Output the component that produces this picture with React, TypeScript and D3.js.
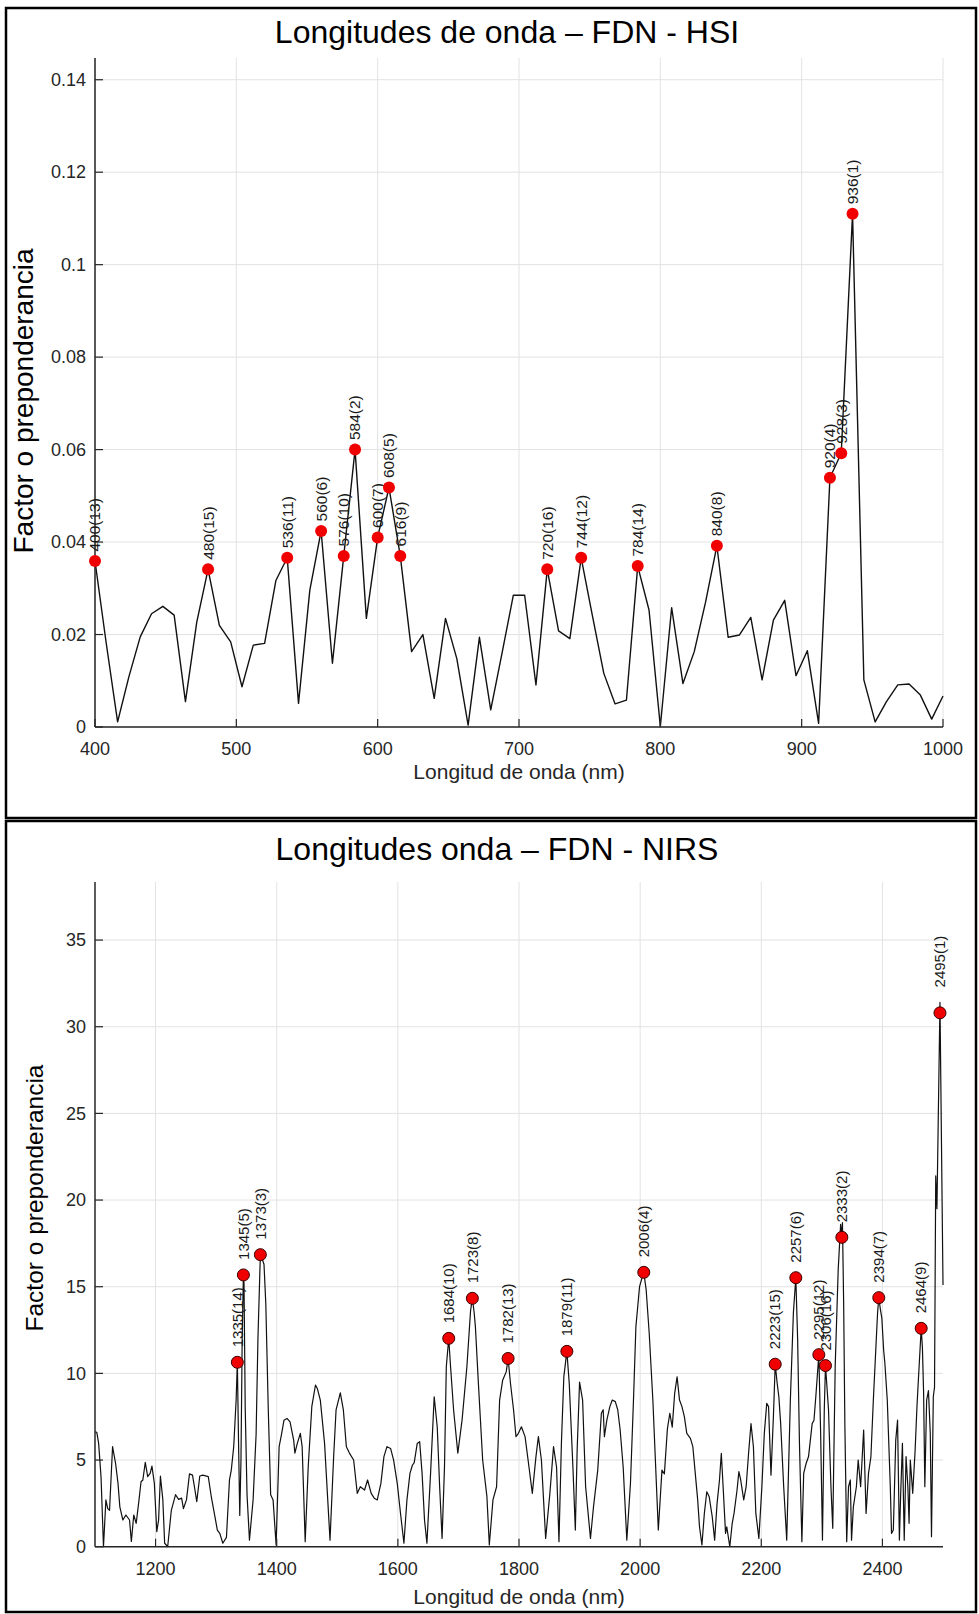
import React from 'react';
import * as d3 from 'd3';

// ---------- HSI (top) ----------
const hsiWavelengths = [
  400, 408, 416, 424, 432, 440, 448, 456, 464, 472, 480, 488, 496, 504, 512, 520, 528, 536, 544, 552,
  560, 568, 576, 584, 592, 600, 608, 616, 624, 632, 640, 648, 656, 664, 672, 680, 688, 696, 704, 712,
  720, 728, 736, 744, 752, 760, 768, 776, 784, 792, 800, 808, 816, 824, 832, 840, 848, 856, 864, 872,
  880, 888, 896, 904, 912, 920, 928, 936, 944, 952, 960, 968, 976, 984, 992, 1000,
];
const hsiValues = [
  0.0359, 0.018, 0.0011, 0.0109, 0.0195, 0.0245, 0.0261, 0.0242, 0.0055, 0.0227, 0.0341, 0.022, 0.0184, 0.0087, 0.0177, 0.0181, 0.0317, 0.0366, 0.0051, 0.0296,
  0.0424, 0.0138, 0.037, 0.06, 0.0235, 0.041, 0.0518, 0.037, 0.0163, 0.02, 0.0062, 0.0235, 0.0148, 0.0004, 0.0194, 0.0037, 0.016, 0.0285, 0.0285, 0.0091,
  0.0341, 0.0208, 0.0191, 0.0366, 0.024, 0.0116, 0.005, 0.0058, 0.0348, 0.0253, 0.0001, 0.0258, 0.0094, 0.0163, 0.027, 0.0392, 0.0194, 0.0199, 0.0237, 0.0102,
  0.0231, 0.0274, 0.0111, 0.0165, 0.0008, 0.0539, 0.0592, 0.111, 0.0102, 0.0011, 0.0055, 0.0091, 0.0093, 0.0069, 0.0017, 0.0067,
];
const hsiPeakWl = [400, 480, 536, 560, 576, 584, 600, 608, 616, 720, 744, 784, 840, 920, 928, 936];
const hsiPeakRank = [13, 15, 11, 6, 10, 2, 7, 5, 9, 16, 12, 14, 8, 4, 3, 1];
const hsiXTicks = [400, 500, 600, 700, 800, 900, 1000];
const hsiYTicks = [0, 0.02, 0.04, 0.06, 0.08, 0.1, 0.12, 0.14];
const hsiYTickLabels = ['0', '0.02', '0.04', '0.06', '0.08', '0.1', '0.12', '0.14'];

// ---------- NIRS (bottom) ----------
const nirsWavelengths = [
  1100, 1103, 1106, 1110, 1114, 1118, 1121, 1124, 1129, 1134, 1138, 1141, 1146, 1151, 1157, 1160, 1164, 1168, 1172, 1176,
  1179, 1183, 1187, 1191, 1194, 1198, 1202, 1205, 1208, 1212, 1215, 1220, 1226, 1233, 1238, 1243, 1246, 1251, 1256, 1261,
  1265, 1268, 1273, 1278, 1287, 1292, 1298, 1302, 1306, 1311, 1317, 1322, 1325, 1329, 1333, 1335, 1337, 1339, 1341, 1343,
  1345, 1346, 1348, 1351, 1355, 1361, 1366, 1369, 1373, 1376, 1379, 1382, 1386, 1390, 1394, 1399, 1404, 1408, 1412, 1417,
  1422, 1428, 1430, 1434, 1439, 1442, 1447, 1452, 1458, 1464, 1467, 1472, 1479, 1488, 1494, 1498, 1505, 1510, 1515, 1520,
  1527, 1533, 1538, 1545, 1550, 1556, 1561, 1566, 1572, 1577, 1582, 1588, 1593, 1599, 1605, 1610, 1615, 1620, 1624, 1627,
  1632, 1636, 1640, 1644, 1648, 1654, 1660, 1665, 1669, 1673, 1677, 1680, 1684, 1687, 1692, 1699, 1706, 1714, 1720, 1723,
  1726, 1728, 1733, 1740, 1747, 1751, 1757, 1763, 1768, 1773, 1779, 1782, 1786, 1791, 1795, 1799, 1804, 1810, 1815, 1822,
  1828, 1832, 1837, 1844, 1851, 1857, 1862, 1866, 1870, 1874, 1879, 1883, 1889, 1893, 1896, 1900, 1905, 1910, 1918, 1923,
  1930, 1936, 1939, 1941, 1945, 1950, 1954, 1959, 1963, 1967, 1972, 1978, 1984, 1989, 1993, 1999, 2003, 2006, 2010, 2015,
  2021, 2030, 2036, 2040, 2045, 2049, 2053, 2057, 2061, 2065, 2069, 2073, 2077, 2083, 2087, 2091, 2095, 2098, 2102, 2106,
  2110, 2114, 2119, 2123, 2127, 2131, 2134, 2137, 2141, 2143, 2148, 2152, 2155, 2160, 2163, 2166, 2171, 2175, 2179, 2183,
  2187, 2191, 2196, 2201, 2205, 2209, 2212, 2216, 2220, 2223, 2226, 2229, 2232, 2237, 2242, 2248, 2253, 2257, 2260, 2263,
  2267, 2270, 2274, 2278, 2284, 2287, 2290, 2295, 2298, 2301, 2304, 2306, 2311, 2315, 2318, 2322, 2327, 2331, 2333, 2334,
  2336, 2338, 2341, 2344, 2347, 2349, 2352, 2357, 2360, 2364, 2369, 2373, 2377, 2381, 2385, 2389, 2392, 2394, 2397, 2399,
  2402, 2404, 2408, 2413, 2415, 2418, 2422, 2425, 2428, 2430, 2433, 2436, 2439, 2442, 2444, 2446, 2450, 2454, 2457, 2459,
  2464, 2466, 2468, 2470, 2473, 2476, 2479, 2481, 2484, 2486, 2488, 2490, 2495, 2500,
];
const nirsValues = [
  6.63, 6.6, 5.96, 4.0, 0, 2.7, 2.2, 2.1, 5.77, 4.8, 3.65, 2.3, 1.54, 1.83, 1.54, 0.3, 1.83, 1.35, 2.5, 3.75,
  3.85, 4.87, 4.04, 4.23, 4.65, 3.65, 0.87, 1.54, 4.08, 2.7, 0.2, 0, 2.1, 3.0, 2.73, 2.8, 2.2, 2.7, 4.2, 4.13,
  3.27, 2.6, 4.08, 4.13, 4.04, 2.88, 1.73, 0.96, 0.77, 0.2, 0.54, 3.85, 4.42, 5.77, 8.46, 10.64, 6.0, 1.8, 5.0, 12.0,
  15.68, 15.2, 8.0, 3.0, 0.38, 2.7, 6.5, 12.0, 16.85, 16.6, 16.3, 14.0, 8.0, 3.0, 2.7, 0.1, 5.77, 6.5, 7.3, 7.4,
  7.2, 6.15, 5.4, 5.96, 6.54, 5.77, 0.29, 4.6, 8.1, 9.33, 9.13, 8.46, 5.96, 0.38, 5.2, 7.9, 8.88, 7.9, 5.77, 5.4,
  5.0, 3.08, 3.46, 3.27, 3.85, 3.08, 2.8, 2.7, 3.65, 5.2, 5.77, 5.67, 5.0, 3.65, 1.73, 0.2, 2.7, 4.23, 4.7, 4.85,
  5.96, 6.06, 4.23, 1.54, 0.2, 4.23, 8.65, 6.92, 3.46, 0.48, 4.6, 10.4, 12.02, 10.4, 7.9, 5.4, 7.3, 10.4, 13.6, 14.33,
  13.5, 12.7, 9.4, 5.0, 2.9, 0.1, 2.7, 3.46, 8.46, 9.6, 10.1, 10.86, 9.4, 7.9, 6.35, 6.54, 6.92, 6.35, 5.0, 3.08,
  5.2, 6.35, 5.0, 0.48, 3.08, 5.77, 4.6, 0.29, 5.96, 9.8, 11.27, 9.4, 4.6, 0.96, 5.58, 9.5, 8.46, 3.46, 0.48, 2.3,
  4.42, 7.7, 7.9, 6.35, 7.3, 8.08, 8.46, 8.37, 7.9, 6.73, 4.6, 0.38, 3.65, 8.46, 12.7, 15.0, 15.5, 15.83, 14.8, 12.3,
  8.46, 0.96, 4.42, 4.2, 6.8, 7.7, 6.9, 8.85, 9.8, 8.46, 8.08, 7.5, 6.54, 6.25, 5.77, 4.23, 2.7, 1.15, 0.1, 1.92,
  3.17, 2.88, 1.73, 0.38, 2.5, 3.85, 5.38, 3.46, 0.77, 1.15, 0, 1.35, 1.92, 3.27, 4.33, 3.85, 2.7, 3.46, 5.38, 7.1,
  5.77, 1.92, 0.48, 3.46, 6.54, 8.27, 8.08, 4.13, 7.5, 10.53, 9.5, 8.65, 7.1, 3.46, 0.38, 8.46, 13.5, 15.52, 12.0, 6.0,
  0.29, 4.23, 4.8, 5.2, 7.1, 7.3, 8.65, 11.08, 6.54, 0.38, 7.9, 10.45, 7.9, 3.46, 1.06, 10.4, 16.0, 18.6, 17.85, 18.7,
  14.0, 7.0, 0.29, 3.46, 3.85, 0.38, 2.3, 3.46, 5.0, 3.46, 6.73, 1.92, 4.23, 5.2, 8.46, 11.35, 13.5, 14.37, 13.6, 13.2,
  11.35, 10.6, 8.46, 3.46, 0.77, 0.96, 6.15, 7.3, 0.38, 2.88, 5.96, 0.38, 5.2, 3.46, 1.35, 5.0, 3.08, 5.58, 8.08, 9.4,
  12.6, 11.5, 8.85, 3.46, 8.46, 9.0, 6.54, 0.58, 8.65, 9.2, 21.4, 19.5, 31.4, 15.1,
];
const nirsPeakWl = [1335, 1345, 1373, 1684, 1723, 1782, 1879, 2006, 2223, 2257, 2295, 2306, 2333, 2394, 2464, 2495];
const nirsPeakVal = [10.64, 15.68, 16.85, 12.02, 14.33, 10.86, 11.27, 15.83, 10.53, 15.52, 11.08, 10.45, 17.85, 14.37, 12.6, 30.8];
const nirsPeakRank = [14, 5, 3, 10, 8, 13, 11, 4, 15, 6, 12, 16, 2, 7, 9, 1];
const nirsXTicks = [1200, 1400, 1600, 1800, 2000, 2200, 2400];
const nirsYTicks = [0, 5, 10, 15, 20, 25, 30, 35];

const FONT = '"Liberation Sans", Arial, Helvetica, sans-serif';
const AXIS_COLOR = '#262626';
const GRID_COLOR = '#e2e2e2';

type PanelProps = {
  title: string;
  titleX: number;
  titleY: number;
  xDomain: [number, number];
  yDomain: [number, number];
  xRange: [number, number];
  yRange: [number, number];
  xTicks: number[];
  yTicks: number[];
  yTickLabels: string[];
  wl: number[];
  vals: number[];
  peakWl: number[];
  peakVal: number[];
  peakRank: number[];
  dotStroke: string | null;
  labelOffset: number;
  labelSize: number;
  xLabelY: number;
  yLabelX: number;
  yLabelCY: number;
  yLabelSize: number;
  lineWidth: number;
};

function Panel(p: PanelProps) {
  const x = d3.scaleLinear().domain(p.xDomain).range(p.xRange);
  const y = d3.scaleLinear().domain(p.yDomain).range(p.yRange);
  const pts = p.wl.map((w, i) => [w, p.vals[i]] as [number, number]);
  const line = d3.line<[number, number]>().x(d => x(d[0])).y(d => y(d[1]));
  const [x0, x1] = p.xRange;
  const [yb, yt] = p.yRange;
  const tickLen = 8;
  return (
    <g>
      {p.xTicks.map(t => (
        <line key={'gx' + t} x1={x(t)} x2={x(t)} y1={yt} y2={yb} stroke={GRID_COLOR} strokeWidth={1} />
      ))}
      {p.yTicks.map(t => (
        <line key={'gy' + t} x1={x0} x2={x1} y1={y(t)} y2={y(t)} stroke={GRID_COLOR} strokeWidth={1} />
      ))}
      <path d={line(pts) || ''} fill="none" stroke="#111" strokeWidth={p.lineWidth} strokeLinejoin="round" />
      <line x1={x0} x2={x0} y1={yt} y2={yb} stroke={AXIS_COLOR} strokeWidth={1.5} />
      <line x1={x0} x2={x1} y1={yb} y2={yb} stroke={AXIS_COLOR} strokeWidth={1.5} />
      {p.xTicks.map(t => (
        <g key={'tx' + t}>
          <line x1={x(t)} x2={x(t)} y1={yb} y2={yb - tickLen} stroke={AXIS_COLOR} strokeWidth={1.2} />
          <text x={x(t)} y={yb + 28} textAnchor="middle" fontSize={18} fontFamily={FONT} fill={AXIS_COLOR}>
            {t}
          </text>
        </g>
      ))}
      {p.yTicks.map((t, i) => (
        <g key={'ty' + t}>
          <line x1={x0} x2={x0 + tickLen} y1={y(t)} y2={y(t)} stroke={AXIS_COLOR} strokeWidth={1.2} />
          <text x={x0 - 9} y={y(t)} dy="0.35em" textAnchor="end" fontSize={18} fontFamily={FONT} fill={AXIS_COLOR}>
            {p.yTickLabels[i]}
          </text>
        </g>
      ))}
      {p.peakWl.map((w, i) => {
        const cx = x(w);
        const cy = y(p.peakVal[i]);
        const idx = p.wl.indexOf(w);
        const lineTop = idx >= 0 ? Math.max(p.vals[idx], p.peakVal[i]) : p.peakVal[i];
        const ly = y(lineTop) - p.labelOffset;
        return (
          <g key={'pk' + w}>
            <circle cx={cx} cy={cy} r={6} fill="#f00000" stroke={p.dotStroke || 'none'} strokeWidth={p.dotStroke ? 1 : 0} />
            <text
              transform={`translate(${cx},${ly}) rotate(-90)`}
              dy="0.35em"
              textAnchor="start"
              fontSize={p.labelSize}
              fontFamily={FONT}
              fill="#1a1a1a"
            >
              {`${w}(${p.peakRank[i]})`}
            </text>
          </g>
        );
      })}
      <text x={p.titleX} y={p.titleY} textAnchor="middle" fontSize={32} fontFamily={FONT} fill="#000">
        {p.title}
      </text>
      <text x={(x0 + x1) / 2} y={p.xLabelY} textAnchor="middle" fontSize={21} fontFamily={FONT} fill={AXIS_COLOR}>
        Longitud de onda (nm)
      </text>
      <text
        transform={`translate(${p.yLabelX},${p.yLabelCY}) rotate(-90)`}
        textAnchor="middle"
        fontSize={p.yLabelSize}
        fontFamily={FONT}
        fill="#000"
      >
        Factor o preponderancia
      </text>
    </g>
  );
}

export default function App() {
  const hsiPeakVal = hsiPeakWl.map(w => hsiValues[hsiWavelengths.indexOf(w)]);
  return (
    <svg
      width={979}
      height={1614}
      viewBox="0 0 979 1614"
      style={{ position: 'absolute', left: 0, top: 0, background: '#fff' }}
    >
      <rect x={0} y={0} width={979} height={1614} fill="#fff" />
      <Panel
        title="Longitudes de onda – FDN - HSI"
        titleX={507}
        titleY={43}
        xDomain={[400, 1000]}
        yDomain={[0, 0.1447]}
        xRange={[95, 943]}
        yRange={[727, 58]}
        xTicks={hsiXTicks}
        yTicks={hsiYTicks}
        yTickLabels={hsiYTickLabels}
        wl={hsiWavelengths}
        vals={hsiValues}
        peakWl={hsiPeakWl}
        peakVal={hsiPeakVal}
        peakRank={hsiPeakRank}
        dotStroke={null}
        labelOffset={9.5}
        labelSize={15.5}
        xLabelY={779}
        yLabelX={33}
        yLabelCY={401}
        yLabelSize={28}
        lineWidth={1.4}
      />
      <Panel
        title="Longitudes onda – FDN - NIRS"
        titleX={497}
        titleY={860}
        xDomain={[1100, 2500]}
        yDomain={[0, 38.35]}
        xRange={[95, 943]}
        yRange={[1546.7, 882]}
        xTicks={nirsXTicks}
        yTicks={nirsYTicks}
        yTickLabels={nirsYTicks.map(String)}
        wl={nirsWavelengths}
        vals={nirsValues}
        peakWl={nirsPeakWl}
        peakVal={nirsPeakVal}
        peakRank={nirsPeakRank}
        dotStroke="#3a0000"
        labelOffset={15}
        labelSize={15}
        xLabelY={1604}
        yLabelX={43}
        yLabelCY={1198}
        yLabelSize={24.5}
        lineWidth={1.2}
      />
      <rect x={6} y={8} width={970} height={810} fill="none" stroke="#000" strokeWidth={2.5} />
      <rect x={6} y={821} width={970} height={791} fill="none" stroke="#000" strokeWidth={2.5} />
    </svg>
  );
}
